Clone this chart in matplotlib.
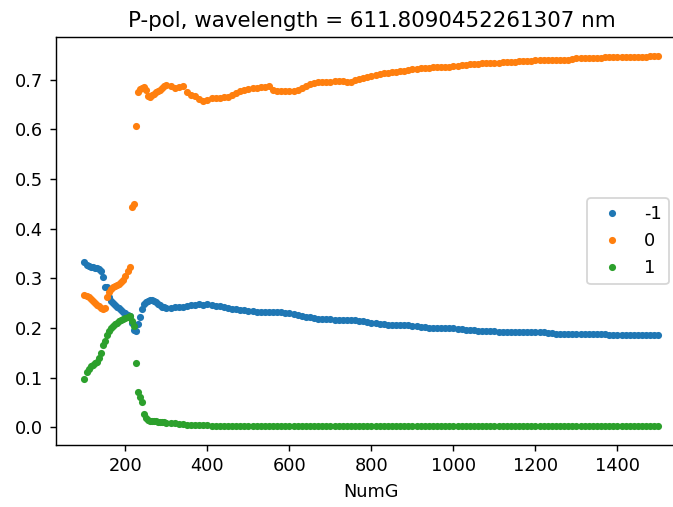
import numpy as np
import matplotlib
matplotlib.use("Agg")
import matplotlib.pyplot as plt

# NumG sampling: fine steps through the transition, coarser afterwards
numg = np.concatenate([np.arange(100, 300, 5), np.arange(300, 1501, 10)])

# Diffraction efficiency of order -1
order_m1 = [
    0.333, 0.328, 0.325, 0.323, 0.322, 0.321, 0.320, 0.318, 0.315, 0.302,
    0.283, 0.282, 0.262, 0.255, 0.250, 0.247, 0.243, 0.240, 0.236, 0.233,
    0.230, 0.227, 0.225, 0.210, 0.197, 0.195, 0.208, 0.222, 0.238, 0.248,
    0.252, 0.255, 0.256, 0.257, 0.255, 0.252, 0.249, 0.246, 0.243, 0.242,
    # 300 .. 1500 step 10
    0.241, 0.240, 0.242, 0.243, 0.242, 0.244, 0.246, 0.247, 0.248, 0.247,
    0.248, 0.246, 0.245, 0.244, 0.242, 0.240, 0.239, 0.238, 0.237, 0.236,
    0.235, 0.234, 0.233, 0.233, 0.233, 0.232, 0.232, 0.232, 0.232, 0.231,
    0.230, 0.228, 0.227, 0.225, 0.223, 0.222, 0.220, 0.219, 0.219, 0.218,
    0.218, 0.217, 0.217, 0.217, 0.217, 0.216, 0.216, 0.215, 0.214, 0.212,
    0.211, 0.210, 0.209, 0.208, 0.207, 0.206, 0.206, 0.206, 0.206, 0.206,
    0.205, 0.204, 0.203, 0.202, 0.201, 0.201, 0.201, 0.201, 0.200, 0.200,
    0.200, 0.199, 0.198, 0.197, 0.196, 0.196, 0.195, 0.195, 0.195, 0.195,
    0.194, 0.193, 0.193, 0.193, 0.193, 0.193, 0.193, 0.193, 0.192, 0.192,
    0.192, 0.192, 0.192, 0.191, 0.190, 0.189, 0.189, 0.189, 0.189, 0.189,
    0.189, 0.189, 0.189, 0.189, 0.189, 0.188, 0.188, 0.188, 0.187, 0.186,
    0.186, 0.186, 0.186, 0.186, 0.186, 0.186, 0.186, 0.186, 0.186, 0.186,
    0.186,
]

# Diffraction efficiency of order 0
order_0 = [
    0.266, 0.265, 0.262, 0.258, 0.254, 0.250, 0.247, 0.244, 0.241, 0.239,
    0.240, 0.262, 0.273, 0.279, 0.283, 0.285, 0.287, 0.289, 0.292, 0.297,
    0.304, 0.314, 0.322, 0.443, 0.450, 0.606, 0.676, 0.682, 0.684, 0.686,
    0.680, 0.668, 0.666, 0.669, 0.672, 0.676, 0.678, 0.680, 0.684, 0.688,
    # 300 .. 1500 step 10
    0.690, 0.687, 0.683, 0.686, 0.688, 0.675, 0.670, 0.668, 0.662, 0.657,
    0.660, 0.663, 0.664, 0.664, 0.665, 0.666, 0.670, 0.674, 0.677, 0.679,
    0.681, 0.683, 0.684, 0.685, 0.686, 0.688, 0.680, 0.677, 0.677, 0.677,
    0.678, 0.678, 0.680, 0.684, 0.688, 0.692, 0.694, 0.695, 0.695, 0.695,
    0.696, 0.697, 0.698, 0.698, 0.696, 0.696, 0.700, 0.702, 0.703, 0.705,
    0.707, 0.709, 0.711, 0.713, 0.714, 0.715, 0.716, 0.717, 0.718, 0.720,
    0.721, 0.722, 0.723, 0.724, 0.724, 0.725, 0.725, 0.725, 0.725, 0.726,
    0.727, 0.728, 0.729, 0.730, 0.731, 0.732, 0.732, 0.733, 0.733, 0.733,
    0.734, 0.734, 0.735, 0.735, 0.736, 0.736, 0.737, 0.737, 0.738, 0.738,
    0.739, 0.739, 0.739, 0.739, 0.739, 0.739, 0.739, 0.739, 0.740, 0.742,
    0.744, 0.744, 0.744, 0.744, 0.744, 0.744, 0.744, 0.745, 0.745, 0.745,
    0.746, 0.746, 0.746, 0.746, 0.746, 0.746, 0.746, 0.746, 0.747, 0.748,
    0.748,
]

# Diffraction efficiency of order 1
order_p1 = [
    0.098, 0.112, 0.118, 0.123, 0.126, 0.129, 0.132, 0.139, 0.150, 0.165,
    0.175, 0.186, 0.194, 0.200, 0.205, 0.208, 0.211, 0.214, 0.217, 0.219,
    0.221, 0.223, 0.224, 0.215, 0.205, 0.130, 0.072, 0.062, 0.052, 0.028,
    0.020, 0.016, 0.014, 0.013, 0.012, 0.012, 0.011, 0.011, 0.010, 0.010,
    # 300 .. 1500 step 10
    0.009, 0.009, 0.008, 0.007, 0.006, 0.005, 0.005, 0.004, 0.004, 0.004,
    0.004, 0.003, 0.003, 0.003, 0.003, 0.003, 0.003, 0.003, 0.003, 0.003,
    0.003, 0.003, 0.003, 0.003, 0.003, 0.003, 0.003, 0.003, 0.003, 0.003,
    0.003, 0.003, 0.003, 0.003, 0.003, 0.003, 0.003, 0.003, 0.003, 0.003,
    0.003, 0.003, 0.003, 0.003, 0.003, 0.003, 0.003, 0.003, 0.003, 0.003,
    0.003, 0.003, 0.003, 0.003, 0.003, 0.003, 0.003, 0.003, 0.003, 0.003,
    0.003, 0.003, 0.003, 0.003, 0.003, 0.003, 0.003, 0.003, 0.003, 0.003,
    0.003, 0.003, 0.003, 0.003, 0.003, 0.003, 0.003, 0.003, 0.002, 0.002,
    0.002, 0.002, 0.002, 0.002, 0.002, 0.002, 0.002, 0.002, 0.002, 0.002,
    0.002, 0.002, 0.002, 0.002, 0.002, 0.002, 0.002, 0.002, 0.002, 0.002,
    0.002, 0.002, 0.002, 0.002, 0.002, 0.002, 0.002, 0.002, 0.002, 0.002,
    0.002, 0.002, 0.002, 0.002, 0.002, 0.002, 0.002, 0.002, 0.002, 0.002,
    0.002,
]

series_labels = ["-1", "0", "1"]
wavelength = 611.8090452261307

DPI = 128
fig = plt.figure(figsize=(673 / DPI, 507 / DPI), dpi=DPI)
ax = fig.add_axes([0.0829, 0.1223, 0.9382, 0.8041])

for vals, lab in zip([order_m1, order_0, order_p1], series_labels):
    ax.plot(numg, vals, ".", label=lab)

ax.set_xlabel("NumG")
ax.set_title(f"P-pol, wavelength = {wavelength} nm")
ax.legend(loc="center right", bbox_to_anchor=(0.985, 0.5))

fig.savefig("out.png", dpi=DPI)
